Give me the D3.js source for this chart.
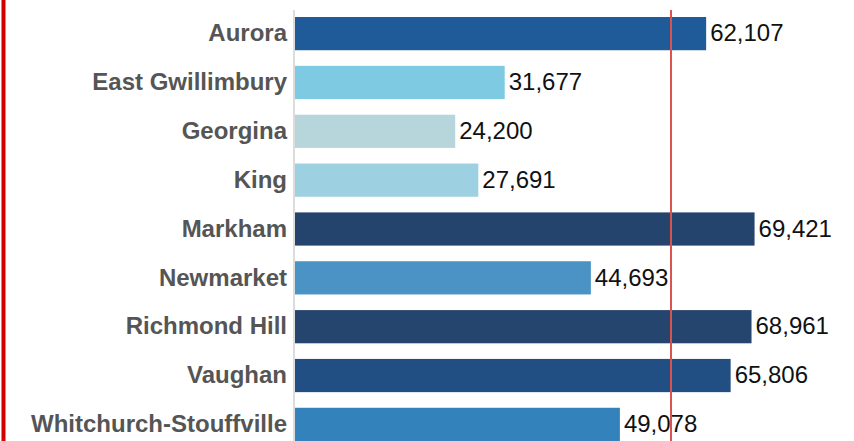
<!DOCTYPE html>
<html><head><meta charset="utf-8">
<script src="https://cdn.jsdelivr.net/npm/d3@7"></script>
<style>html,body{margin:0;padding:0;background:#fff;overflow:hidden}</style>
</head><body>
<svg id="c" width="854" height="441"></svg>
<script>
const categories = ["Aurora","East Gwillimbury","Georgina","King","Markham","Newmarket","Richmond Hill","Vaughan","Whitchurch-Stouffville"];
const values = [62107,31677,24200,27691,69421,44693,68961,65806,49078];
const barColors = ["#1f5b98","#7ecae3","#b6d6dc","#9dd0e0","#25446d","#4a93c4","#26456e","#224f83","#3382bc"];
const referenceValue = 56800;

const svg = d3.select("#c");
const x = d3.scaleLinear().domain([0,70000]).range([295,758.4]);
const y = d3.scaleBand().domain(categories).range([9.2,448.8]).paddingInner(0.32).paddingOuter(0.16);

// left red border
svg.append("rect").attr("x",1.5).attr("y",0).attr("width",4).attr("height",441).attr("fill","#d40000");

// axis line
svg.append("line").attr("x1",294).attr("x2",294).attr("y1",10).attr("y2",441)
  .attr("stroke","#dcdcdc").attr("stroke-width",2);

svg.selectAll("rect.bar").data(categories).join("rect").attr("class","bar")
  .attr("x",x(0)).attr("y",d=>y(d)).attr("width",(d,i)=>x(values[i])-x(0)).attr("height",y.bandwidth())
  .attr("fill",(d,i)=>barColors[i]);

svg.selectAll("text.cat").data(categories).join("text").attr("class","cat")
  .attr("x",287).attr("y",d=>y(d)+y.bandwidth()/2).attr("dy","0.32em")
  .attr("text-anchor","end").attr("font-family","'Liberation Sans', Arial, sans-serif")
  .attr("font-weight","bold").attr("font-size","24px").attr("fill","#555555").text(d=>d);

const fmt = d3.format(",");
svg.selectAll("text.val").data(categories).join("text").attr("class","val")
  .attr("x",(d,i)=>x(values[i])+4).attr("y",d=>y(d)+y.bandwidth()/2).attr("dy","0.32em")
  .attr("font-family","'Liberation Sans', Arial, sans-serif").attr("font-size","24px").attr("fill","#111")
  .text((d,i)=>fmt(values[i]));

// reference line
svg.append("line").attr("x1",x(referenceValue)).attr("x2",x(referenceValue)).attr("y1",10).attr("y2",441)
  .attr("stroke","#d9534f").attr("stroke-width",2);
</script>
</body></html>
